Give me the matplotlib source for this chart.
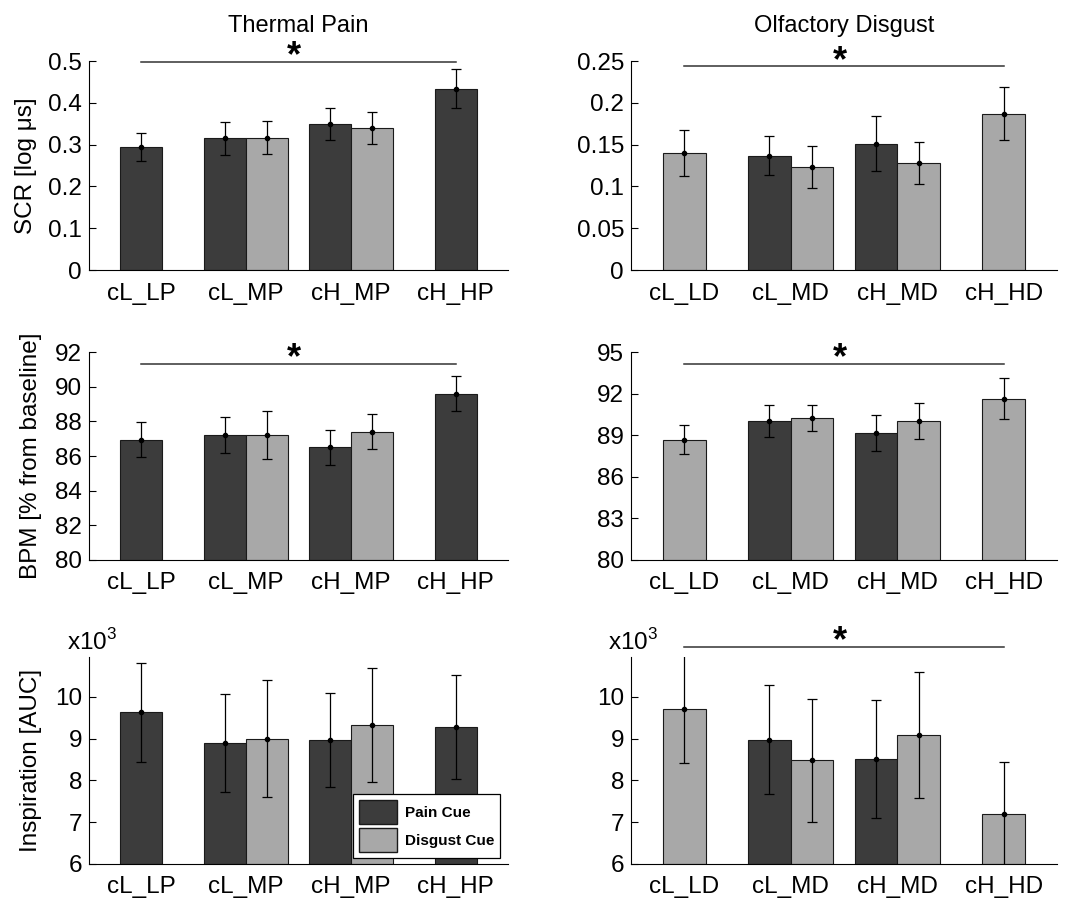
import numpy as np
import matplotlib
matplotlib.use("Agg")
import matplotlib.pyplot as plt
from matplotlib.patches import Patch

plt.rcParams['font.family'] = ['Liberation Sans', 'DejaVu Sans']
plt.rcParams['mathtext.fontset'] = 'custom'
plt.rcParams['mathtext.rm'] = 'Liberation Sans'

nan = np.nan

# Category labels
cats_pain = ["cL_LP", "cL_MP", "cH_MP", "cH_HP"]
cats_disgust = ["cL_LD", "cL_MD", "cH_MD", "cH_HD"]

# SCR [log us]
scr_pain_pc = [0.295, 0.315, 0.350, 0.434]
scr_pain_pc_err = [0.034, 0.040, 0.038, 0.046]
scr_pain_dc = [nan, 0.317, 0.339, nan]
scr_pain_dc_err = [nan, 0.040, 0.038, nan]
scr_disg_pc = [nan, 0.137, 0.151, nan]
scr_disg_pc_err = [nan, 0.023, 0.033, nan]
scr_disg_dc = [0.140, 0.123, 0.128, 0.187]
scr_disg_dc_err = [0.028, 0.025, 0.025, 0.032]

# BPM [% from baseline]
bpm_pain_pc = [86.95, 87.22, 86.50, 89.60]
bpm_pain_pc_err = [1.00, 1.05, 1.00, 1.00]
bpm_pain_dc = [nan, 87.22, 87.40, nan]
bpm_pain_dc_err = [nan, 1.40, 1.02, nan]
bpm_disg_pc = [nan, 90.00, 89.15, nan]
bpm_disg_pc_err = [nan, 1.15, 1.30, nan]
bpm_disg_dc = [88.67, 90.25, 90.02, 91.62]
bpm_disg_dc_err = [1.04, 0.93, 1.32, 1.48]

# Inspiration [AUC], in units of 10^3
insp_pain_pc = [9.63, 8.90, 8.96, 9.27]
insp_pain_pc_err = [1.18, 1.17, 1.13, 1.25]
insp_pain_dc = [nan, 8.99, 9.32, nan]
insp_pain_dc_err = [nan, 1.40, 1.37, nan]
insp_disg_pc = [nan, 8.97, 8.51, nan]
insp_disg_pc_err = [nan, 1.30, 1.40, nan]
insp_disg_dc = [9.71, 8.48, 9.08, 7.20]
insp_disg_dc_err = [1.29, 1.47, 1.51, 1.25]

DARK = "#3c3c3c"
LIGHT = "#a8a8a8"
W = 0.4


def draw_panel(ax, cats, pc, pc_err, dc, dc_err, ylim, yticks):
    pc = np.array(pc, dtype=float)
    dc = np.array(dc, dtype=float)
    x = np.arange(1, len(cats) + 1)
    both = ~np.isnan(pc) & ~np.isnan(dc)
    x_pc = np.where(both, x - W / 2, x)
    x_dc = np.where(both, x + W / 2, x)
    for xs, vals, errs, col in ((x_pc, pc, pc_err, DARK), (x_dc, dc, dc_err, LIGHT)):
        m = ~np.isnan(vals)
        ax.bar(xs[m], vals[m] - ylim[0], W, bottom=ylim[0], color=col,
               edgecolor="#1a1a1a", linewidth=0.8, zorder=2)
        ax.errorbar(xs[m], vals[m], yerr=np.array(errs, dtype=float)[m], fmt='o',
                    color='black', ms=3, elinewidth=0.9, capsize=3.5, capthick=0.9, zorder=3)
    ax.set_xlim(0.5, len(cats) + 0.5)
    ax.set_ylim(*ylim)
    ax.set_yticks(yticks)
    ax.set_xticks(x)
    ax.set_xticklabels(cats)
    ax.spines['top'].set_visible(False)
    ax.spines['right'].set_visible(False)
    ax.tick_params(axis='y', direction='in', length=5, labelsize=17.5, pad=5)
    ax.tick_params(axis='x', length=0, labelsize=17.5, pad=9)


def add_sig(ax, y):
    ax.plot([1, 4], [y, y], color="#333333", lw=1.1, clip_on=False)
    ax.annotate("*", xy=(2.46, y), xytext=(0, 3.5), textcoords='offset points',
                fontsize=26, fontweight='bold', ha='center', va='center',
                annotation_clip=False)


fig = plt.figure(figsize=(10.72, 8.98), dpi=100)
lx, lw = 0.0830, 0.3909
rx, rw = 0.5886, 0.3974
rows = [(0.6993, 0.2327), (0.3764, 0.2316), (0.0379, 0.2305)]

ax1 = fig.add_axes([lx, rows[0][0], lw, rows[0][1]])
ax2 = fig.add_axes([rx, rows[0][0], rw, rows[0][1]])
ax3 = fig.add_axes([lx, rows[1][0], lw, rows[1][1]])
ax4 = fig.add_axes([rx, rows[1][0], rw, rows[1][1]])
ax5 = fig.add_axes([lx, rows[2][0], lw, rows[2][1]])
ax6 = fig.add_axes([rx, rows[2][0], rw, rows[2][1]])

draw_panel(ax1, cats_pain, scr_pain_pc, scr_pain_pc_err, scr_pain_dc, scr_pain_dc_err,
           (0, 0.5), [0, 0.1, 0.2, 0.3, 0.4, 0.5])
ax1.set_yticklabels(["0", "0.1", "0.2", "0.3", "0.4", "0.5"])
draw_panel(ax2, cats_disgust, scr_disg_pc, scr_disg_pc_err, scr_disg_dc, scr_disg_dc_err,
           (0, 0.25), [0, 0.05, 0.1, 0.15, 0.2, 0.25])
ax2.set_yticklabels(["0", "0.05", "0.1", "0.15", "0.2", "0.25"])
draw_panel(ax3, cats_pain, bpm_pain_pc, bpm_pain_pc_err, bpm_pain_dc, bpm_pain_dc_err,
           (80, 92), [80, 82, 84, 86, 88, 90, 92])
draw_panel(ax4, cats_disgust, bpm_disg_pc, bpm_disg_pc_err, bpm_disg_dc, bpm_disg_dc_err,
           (80, 95), [80, 83, 86, 89, 92, 95])
draw_panel(ax5, cats_pain, insp_pain_pc, insp_pain_pc_err, insp_pain_dc, insp_pain_dc_err,
           (6, 10.95), [6, 7, 8, 9, 10])
draw_panel(ax6, cats_disgust, insp_disg_pc, insp_disg_pc_err, insp_disg_dc, insp_disg_dc_err,
           (6, 10.95), [6, 7, 8, 9, 10])

ax1.set_title("Thermal Pain", fontsize=17, pad=21)
ax2.set_title("Olfactory Disgust", fontsize=17, pad=21)

ax1.set_ylabel("SCR [log \u03bcs]", fontsize=17.5)
ax1.yaxis.set_label_coords(-0.125, 0.5)
ax3.set_ylabel("BPM [% from baseline]", fontsize=17.5)
ax3.yaxis.set_label_coords(-0.112, 0.5)
ax5.set_ylabel("Inspiration [AUC]", fontsize=17.5)
ax5.yaxis.set_label_coords(-0.112, 0.5)

# significance bars
add_sig(ax1, 0.498)
add_sig(ax2, 0.2436)
add_sig(ax3, 91.33)
add_sig(ax4, 94.17)
add_sig(ax6, 11.2)

for ax in (ax5, ax6):
    ax.text(-0.053, 1.034, r"x10$^{3}$", transform=ax.transAxes, fontsize=17.5,
            ha='left', va='baseline')

handles = [Patch(facecolor=DARK, edgecolor="#1a1a1a", label="Pain Cue"),
           Patch(facecolor=LIGHT, edgecolor="#1a1a1a", label="Disgust Cue")]
leg = ax5.legend(handles=handles, loc='lower right', bbox_to_anchor=(0.981, 0.029),
                 borderaxespad=0, fancybox=False, edgecolor='black', framealpha=1,
                 prop={'weight': 'bold', 'size': 11}, handlelength=2.5, handleheight=2.0,
                 handletextpad=0.5, borderpad=0.4, labelspacing=0.3)
leg.get_frame().set_linewidth(0.9)
leg.set_zorder(5)

fig.savefig("out.png", dpi=100)
